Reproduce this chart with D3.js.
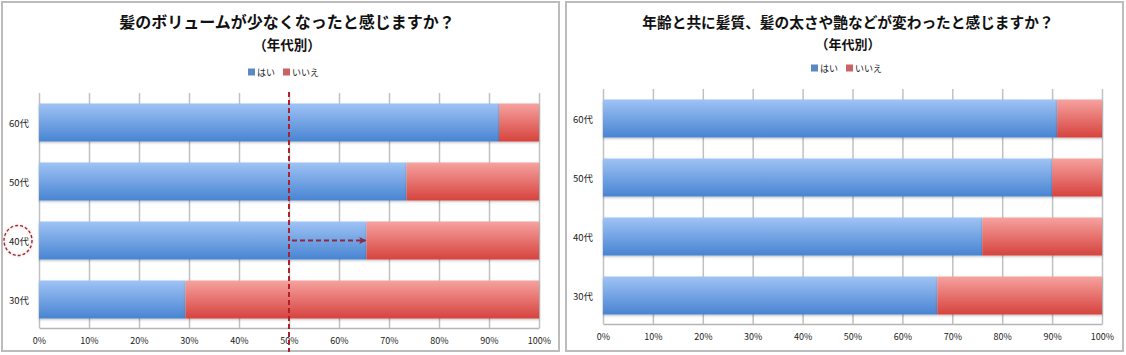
<!DOCTYPE html>
<html><head><meta charset="utf-8">
<script src="https://cdn.jsdelivr.net/npm/d3@7"></script>
<style>
html,body{margin:0;padding:0;background:#fff;}
svg{display:block;font-family:"Noto Sans CJK JP","Noto Sans",sans-serif;}
</style></head>
<body>
<svg id="c" width="1126" height="355"></svg>
<script>
// ---- data ----
const categories = ["60代", "50代", "40代", "30代"];
const seriesNames = ["はい", "いいえ"];
const leftTitle = "髪のボリュームが少なくなったと感じますか？";
const rightTitle = "年齢と共に髪質、髪の太さや艶などが変わったと感じますか？";
const subTitle = "（年代別）";
const leftYes = [92, 73.5, 65.5, 29.3];
const leftNo = [8, 26.5, 34.5, 70.7];
const rightYes = [91, 90, 76, 67];
const rightNo = [9, 10, 24, 33];
const xTicks = [0, 10, 20, 30, 40, 50, 60, 70, 80, 90, 100];
const highlightCategory = "40代";
const referenceLine = 50;

const svg = d3.select("#c");
const defs = svg.append("defs");

function grad(id, top, bottom) {
  const g = defs.append("linearGradient").attr("id", id)
    .attr("x1", 0).attr("y1", 0).attr("x2", 0).attr("y2", 1);
  g.append("stop").attr("offset", "0%").attr("stop-color", top);
  g.append("stop").attr("offset", "100%").attr("stop-color", bottom);
}
grad("gBlue", "#9fc3f5", "#4884d2");
grad("gRed", "#f6a29f", "#d6433e");
const sh = defs.append("filter").attr("id", "shadow")
  .attr("x", "-5%").attr("y", "-10%").attr("width", "110%").attr("height", "130%");
sh.append("feDropShadow").attr("dx", 0).attr("dy", 1.2).attr("stdDeviation", 1)
  .attr("flood-color", "#000").attr("flood-opacity", 0.25);
const glow = defs.append("filter").attr("id", "glow")
  .attr("x", "-50%").attr("y", "-50%").attr("width", "200%").attr("height", "200%");
glow.append("feDropShadow").attr("dx", 0).attr("dy", 0).attr("stdDeviation", 1.5)
  .attr("flood-color", "#f08080").attr("flood-opacity", 0.6);
const mk = defs.append("marker").attr("id", "arrow")
  .attr("viewBox", "0 0 10 10").attr("refX", 8).attr("refY", 5)
  .attr("markerWidth", 4.5).attr("markerHeight", 4.5).attr("orient", "auto");
mk.append("path").attr("d", "M1,1 L9,5 L1,9 L3,5 Z").attr("fill", "#8a2a47");

const fills = ["url(#gBlue)", "url(#gRed)"];
const legendColors = ["#5b88c4", "#c96462"];

function drawChart(cfg) {
  const g = svg.append("g");
  // panel
  g.append("rect").attr("x", cfg.panel[0]).attr("y", cfg.panel[1])
    .attr("width", cfg.panel[2]).attr("height", cfg.panel[3])
    .attr("fill", "#fff").attr("stroke", "#bcbcbc").attr("stroke-width", 2);

  // titles
  g.append("text").attr("x", cfg.titleX).attr("y", 21)
    .attr("text-anchor", "middle").attr("dominant-baseline", "central")
    .attr("font-size", cfg.titleSize).attr("font-weight", "bold").attr("fill", "#111")
    .text(cfg.title);
  g.append("text").attr("x", cfg.titleX).attr("y", 43.5)
    .attr("text-anchor", "middle").attr("dominant-baseline", "central")
    .attr("font-size", cfg.subSize).attr("font-weight", "bold").attr("fill", "#111")
    .text(subTitle);

  // legend
  const lg = g.append("g").attr("transform", `translate(${cfg.legendX},${cfg.legendY})`);
  seriesNames.forEach((n, i) => {
    const ox = i * 35;
    lg.append("rect").attr("x", ox).attr("y", -3.5).attr("width", 7).attr("height", 7)
      .attr("fill", legendColors[i]);
    lg.append("text").attr("x", ox + 9).attr("y", 0).attr("dominant-baseline", "central")
      .attr("font-size", 9).attr("fill", "#222").text(n);
  });

  const x = d3.scaleLinear().domain([0, 100]).range(cfg.xRange);
  const y = d3.scaleBand().domain(categories).range(cfg.yRange)
    .paddingInner(0.356).paddingOuter(0.178);
  const bottom = cfg.yRange[1] - 1;

  // axis with gridlines
  const ax = g.append("g").attr("transform", `translate(0,${bottom})`)
    .call(d3.axisBottom(x).tickValues(xTicks).tickFormat(d => d + "%")
      .tickSize(-(bottom - cfg.yRange[0])).tickSizeOuter(0).tickPadding(10));
  ax.select(".domain").attr("stroke", "#b5b5b5").attr("stroke-width", 1.5);
  ax.selectAll(".tick line").attr("stroke", "#c0c0c0").attr("stroke-width", 1.5);
  ax.selectAll(".tick text").attr("font-size", 9).attr("fill", "#222")
    .attr("font-family", "'Noto Sans CJK JP',sans-serif");

  // category labels
  g.selectAll(".cat").data(categories).enter().append("text")
    .attr("x", x(0) - 10).attr("y", d => y(d) + y.bandwidth() / 2)
    .attr("text-anchor", "end").attr("dominant-baseline", "central")
    .attr("font-size", 9.5).attr("fill", "#222").text(d => d);

  // stacked bars
  const table = categories.map((c, i) => ({ cat: c, yes: cfg.yes[i], no: cfg.no[i] }));
  const stack = d3.stack().keys(["yes", "no"])(table);
  stack.forEach((layer, li) => {
    g.append("g").attr("filter", "url(#shadow)").selectAll("rect").data(layer).enter().append("rect")
      .attr("x", d => x(d[0])).attr("width", d => x(d[1]) - x(d[0]))
      .attr("y", d => y(d.data.cat)).attr("height", y.bandwidth())
      .attr("fill", fills[li]);
  });

  if (cfg.annotate) {
    const cy = y(highlightCategory) + y.bandwidth() / 2;
    const yesVal = cfg.yes[categories.indexOf(highlightCategory)];
    // circle around label
    g.append("ellipse").attr("cx", x(0) - 21).attr("cy", cy).attr("rx", 14).attr("ry", 15)
      .attr("fill", "none").attr("stroke", "#8e2d35").attr("stroke-width", 1.4)
      .attr("stroke-dasharray", "3,2").attr("filter", "url(#glow)");
    // reference dashed line
    g.append("line").attr("x1", x(referenceLine)).attr("x2", x(referenceLine))
      .attr("y1", cfg.yRange[0] - 1).attr("y2", 352)
      .attr("stroke", "#b0202b").attr("stroke-width", 2).attr("stroke-dasharray", "5,3");
    // arrow
    g.append("line").attr("x1", x(referenceLine) + 3).attr("x2", x(yesVal) - 1)
      .attr("y1", cy).attr("y2", cy)
      .attr("stroke", "#8a2a47").attr("stroke-width", 2).attr("stroke-dasharray", "5,3")
      .attr("marker-end", "url(#arrow)");
  }
}

drawChart({
  panel: [2, 2, 557, 349], title: leftTitle, titleX: 287, titleSize: 16, subSize: 13.5,
  legendX: 248, legendY: 72, xRange: [39, 539], yRange: [93, 329],
  yes: leftYes, no: leftNo, annotate: true
});
drawChart({
  panel: [566, 2, 557, 349], title: rightTitle, titleX: 848, titleSize: 14.7, subSize: 13,
  legendX: 811, legendY: 68, xRange: [603, 1102], yRange: [89, 325],
  yes: rightYes, no: rightNo, annotate: false
});
</script>
</body></html>
